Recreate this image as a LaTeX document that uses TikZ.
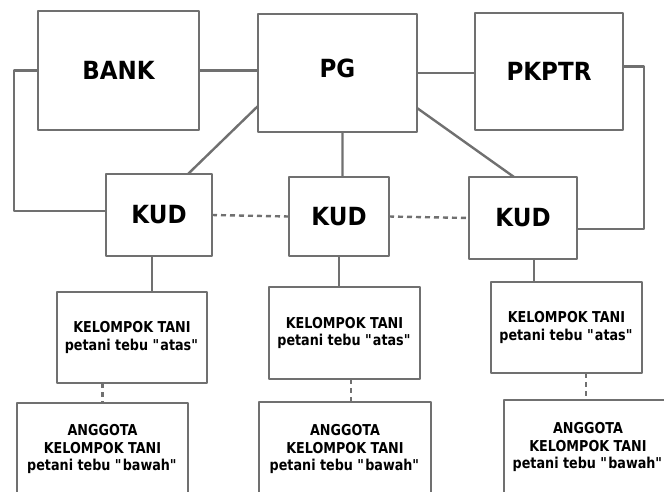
\documentclass[tikz,border=0pt]{standalone}
\usepackage{fontspec}
\setmainfont{DejaVu Sans}
\newfontfamily\bigfont[FakeStretch=0.92]{DejaVu Sans}
\newfontfamily\smallfont[FakeStretch=0.85]{DejaVu Sans}
\definecolor{linegray}{RGB}{112,112,112}
\newcommand{\qt}[1]{\textquotedbl#1\textquotedbl}
\begin{document}
\begin{tikzpicture}[x=1pt,y=-1pt,line join=round,
	box/.style={draw=linegray,line width=2.4pt,inner sep=0pt,outer sep=0pt,align=center},
	bigbox/.style={box,font=\bigfont\fontsize{25}{29}\selectfont\bfseries},
	tanibox/.style={box,font=\smallfont\fontsize{15}{17.8}\selectfont\bfseries},
	link/.style={draw=linegray,line width=2.4pt},
	dlink/.style={link,dash pattern=on 5pt off 4pt}]
	 \useasboundingbox (0,0) rectangle (664,491);
	 \clip (0,0) rectangle (664,491);
	 \node[bigbox,minimum width=161pt,minimum height=119pt] (bank) at (118.5,70.5) {BANK};
	 \node[bigbox,minimum width=159pt,minimum height=118pt,text depth=10pt] (pg) at (337.5,73) {PG};
	 \node[bigbox,minimum width=148pt,minimum height=117pt] (pkptr) at (549,71.5) {PKPTR};
	 \node[bigbox,minimum width=106pt,minimum height=82pt] (kudA) at (159,215) {KUD};
	 \node[bigbox,minimum width=100pt,minimum height=79pt] (kudB) at (339,216.5) {KUD};
	 \node[bigbox,minimum width=108pt,minimum height=82pt] (kudC) at (523,218) {KUD};
	 \node[tanibox,minimum width=150pt,minimum height=91pt] (taniA) at (132,337.5) {KELOMPOK TANI\\petani tebu \qt{atas}};
	 \node[tanibox,minimum width=151pt,minimum height=92pt] (taniB) at (344.5,333) {KELOMPOK TANI\\petani tebu \qt{atas}};
	 \node[tanibox,minimum width=151pt,minimum height=91pt] (taniC) at (566.5,327.5) {KELOMPOK TANI\\petani tebu \qt{atas}};
	 \node[tanibox,minimum width=171pt,minimum height=92pt] (agtA) at (102.5,449) {ANGGOTA\\KELOMPOK TANI\\petani tebu \qt{bawah}};
	 \node[tanibox,minimum width=172pt,minimum height=94pt] (agtB) at (345,449) {ANGGOTA\\KELOMPOK TANI\\petani tebu \qt{bawah}};
	 \node[tanibox,minimum width=168pt,minimum height=94pt] (agtC) at (588,447) {ANGGOTA\\KELOMPOK TANI\\petani tebu \qt{bawah}};
	 \draw[link] (bank.east)--(bank.east-|pg.west) (pg.east)--(pg.east-|pkptr.west);
	 \draw[link] (bank.west)--++(-24,0)|-([yshift=4pt]kudA.west);
	 \draw[link] ([yshift=5pt]pkptr.east)--++(21,0)|-([yshift=-11pt]kudC.east);
	 \draw[link] ([yshift=-33pt]pg.west)--([xshift=29pt]kudA.north)
	 ([xshift=5pt]pg.south)--([xshift=5pt]pg.south|-kudB.north)
	 ([yshift=-35pt]pg.east)--([xshift=-9pt]kudC.north);
	 \draw[dlink] (kudA.east)--(kudB.west) (kudB.east)--(kudC.west);
	 \draw[link] ([xshift=-7pt]kudA.south)--([xshift=-7pt]kudA.south|-taniA.north)
	 (kudB.south)--(kudB.south|-taniB.north)
	 ([xshift=11pt]kudC.south)--([xshift=11pt]kudC.south|-taniC.north);
	 \draw[dlink] (agtA.north|-taniA.south)--(agtA.north)
	 ([xshift=6pt]agtB.north|-taniB.south)--([xshift=6pt]agtB.north)
	 ([xshift=-2pt]agtC.north|-taniC.south)--([xshift=-2pt]agtC.north);
\end{tikzpicture}
\end{document}
